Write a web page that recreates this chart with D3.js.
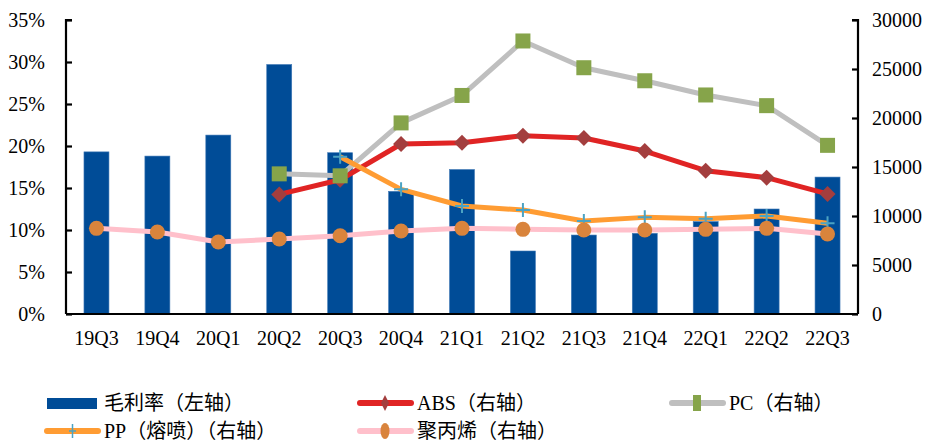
<html>
<head>
  <script src="https://d3js.org/d3.v7.min.js"></script>
  <style>
    body { margin: 0; background: #fff; }
    text { font-family: "Liberation Serif", "Noto Sans CJK SC", serif; }
  </style>
</head>
<body>
  <svg id="chart"></svg>

  <script>
    const quarters = ['19Q3', '19Q4', '20Q1', '20Q2', '20Q3', '20Q4', '21Q1', '21Q2', '21Q3', '21Q4', '22Q1', '22Q2', '22Q3'];
    const margin = [19.3, 18.8, 21.3, 29.7, 19.2, 14.6, 17.2, 7.5, 9.4, 9.6, 11.0, 12.5, 16.3];
    const abs = [null, null, null, 12200, 13700, 17350, 17480, 18200, 17960, 16630, 14620, 13910, 12250];
    const pc = [null, null, null, 14300, 14100, 19500, 22300, 27860, 25130, 23800, 22350, 21260, 17210];
    const pp = [null, null, null, null, 16050, 12720, 11020, 10610, 9490, 9860, 9730, 10000, 9250];
    const pol = [8740, 8370, 7350, 7650, 7990, 8470, 8740, 8640, 8570, 8570, 8640, 8740, 8160];
    const leftTicks = [0, 5, 10, 15, 20, 25, 30, 35];
    const rightTicks = [0, 5000, 10000, 15000, 20000, 25000, 30000];

    const width = 933, height = 441;
    const x0 = 66, x1 = 858, yTop = 20, yBot = 314;

    const svg = d3.select('#chart').attr('width', width).attr('height', height);

    const x = d3.scaleBand().domain(quarters).range([x0, x1]).paddingInner(0.59).paddingOuter(0.295);
    const yL = d3.scaleLinear().domain([0, 35]).range([yBot, yTop]);
    const yR = d3.scaleLinear().domain([0, 30000]).range([yBot, yTop]);
    const cx = d => x(d) + x.bandwidth() / 2;

    // bars
    svg.append('g').selectAll('rect')
      .data(quarters.map((q, i) => ({q, v: margin[i]})))
      .enter().append('rect')
      .attr('x', d => x(d.q))
      .attr('width', x.bandwidth())
      .attr('y', d => yL(d.v))
      .attr('height', d => yBot - yL(d.v))
      .attr('fill', '#004C97')
      .attr('stroke', '#3F78B5')
      .attr('stroke-width', 0.6);

    // axes
    const axL = svg.append('g').attr('transform', `translate(${x0},0)`)
      .call(d3.axisRight(yL).tickValues(leftTicks).tickSize(6).tickFormat(d => d + '%'));
    axL.selectAll('text').attr('x', -21).attr('text-anchor', 'end');
    const axR = svg.append('g').attr('transform', `translate(${x1},0)`)
      .call(d3.axisLeft(yR).tickValues(rightTicks).tickSize(6).tickFormat(d3.format('d')));
    axR.selectAll('text').attr('x', 14).attr('text-anchor', 'start');
    const axB = svg.append('g').attr('transform', `translate(0,${yBot})`)
      .call(d3.axisBottom(x).tickSize(0).tickPadding(16));
    [axL, axR, axB].forEach(a => {
      a.select('.domain').attr('stroke', '#000').attr('stroke-width', 2.2);
      a.selectAll('line').attr('stroke', '#000').attr('stroke-width', 2.2);
      a.selectAll('text').style('font-size', '20px').attr('fill', '#000')
        .style('font-family', '"Liberation Serif", serif');
    });
    axL.select('.domain').attr('d', `M6,${yTop}H0V${yBot}`);
    axR.select('.domain').attr('d', `M-6,${yTop}H0V${yBot}`);
    axB.select('.domain').attr('d', `M${x0},0H${x1}`);
    axB.selectAll('text').attr('dy', '0.75em');

    const series = [
      {name: 'ABS（右轴）', vals: abs, line: '#E02424', marker: 'diamond', mc: '#A33E3E'},
      {name: 'PC（右轴）', vals: pc, line: '#BFBFBF', marker: 'square', mc: '#86A44A'},
      {name: 'PP（熔喷）（右轴）', vals: pp, line: '#FF9C33', marker: 'plus', mc: '#4BA3C3'},
      {name: '聚丙烯（右轴）', vals: pol, line: '#FFC0CB', marker: 'circle', mc: '#D9843C'}
    ];

    const line = d3.line().defined(d => d.v != null).x(d => cx(d.q)).y(d => yR(d.v));

    function drawMarker(g, s, px, py) {
      if (s.marker === 'diamond') {
        g.append('path').attr('d', `M${px},${py - 8}L${px + 8},${py}L${px},${py + 8}L${px - 8},${py}Z`).attr('fill', s.mc);
      } else if (s.marker === 'square') {
        g.append('rect').attr('x', px - 7.5).attr('y', py - 7.5).attr('width', 15).attr('height', 15).attr('fill', s.mc);
      } else if (s.marker === 'plus') {
        g.append('path').attr('d', `M${px - 7},${py}H${px + 7}M${px},${py - 7}V${py + 7}`).attr('stroke', s.mc).attr('stroke-width', 2);
      } else {
        g.append('circle').attr('cx', px).attr('cy', py).attr('r', 7.5).attr('fill', s.mc);
      }
    }

    series.forEach(s => {
      const pts = quarters.map((q, i) => ({q, v: s.vals[i]}));
      const g = svg.append('g');
      g.append('path').datum(pts).attr('d', line).attr('fill', 'none')
        .attr('stroke', s.line).attr('stroke-width', 5).attr('stroke-linejoin', 'round');
      pts.filter(d => d.v != null).forEach(d => drawMarker(g, s, cx(d.q), yR(d.v)));
    });

    // legend
    const leg = svg.append('g');
    const l0 = leg.append('g');
    l0.append('rect').attr('x', 47).attr('y', 398).attr('width', 50).attr('height', 11).attr('fill', '#004C97');
    l0.append('text').attr('x', 104).attr('y', 403).attr('dy', '0.35em').style('font-size', '20px').text('毛利率（左轴）');
    const legPos = [[358, 403], [670, 403], [45, 431], [358, 431]];
    series.forEach((s, i) => {
      const [lx, ly] = legPos[i];
      const g = leg.append('g');
      g.append('line').attr('x1', lx + 2).attr('x2', lx + 53).attr('y1', ly).attr('y2', ly)
        .attr('stroke', s.line).attr('stroke-width', 6).attr('stroke-linecap', 'round');
      if (s.marker === 'diamond') {
        g.append('path').attr('d', `M${lx + 27},${ly - 8}L${lx + 31},${ly}L${lx + 27},${ly + 8}L${lx + 23},${ly}Z`).attr('fill', s.mc);
      } else if (s.marker === 'square') {
        g.append('rect').attr('x', lx + 23).attr('y', ly - 8).attr('width', 8).attr('height', 16).attr('fill', s.mc);
      } else if (s.marker === 'plus') {
        g.append('path').attr('d', `M${lx + 24},${ly}H${lx + 31}M${lx + 27.5},${ly - 7}V${ly + 7}`).attr('stroke', s.mc).attr('stroke-width', 1.5);
      } else {
        g.append('ellipse').attr('cx', lx + 27).attr('cy', ly).attr('rx', 4.5).attr('ry', 8).attr('fill', s.mc);
      }
      g.append('text').attr('x', lx + 59).attr('y', ly).attr('dy', '0.35em').style('font-size', '20px').text(s.name);
    });
  </script>
</body>
</html>
